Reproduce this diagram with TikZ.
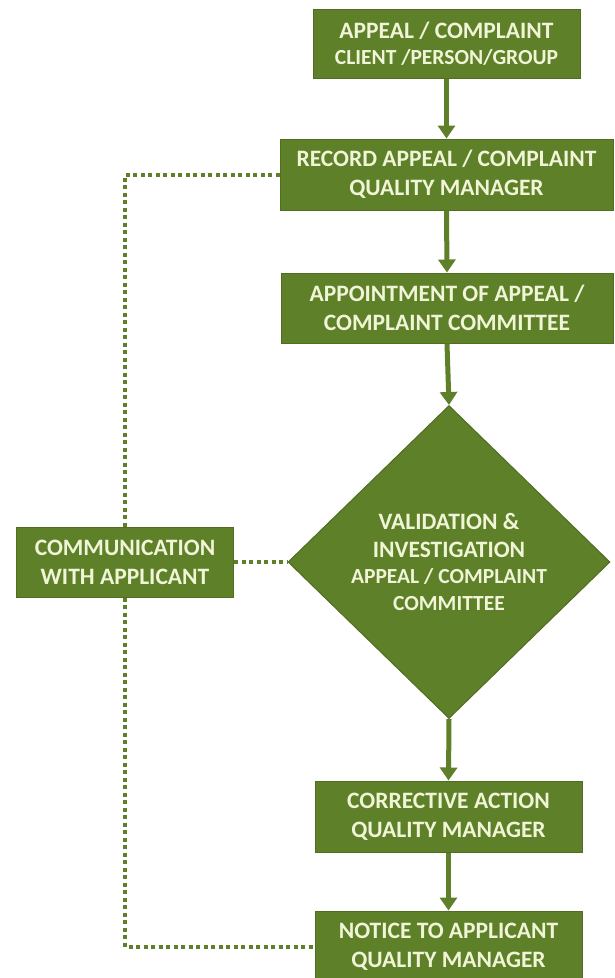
\documentclass[tikz,border=0pt]{standalone}
\usepackage{fontspec}
\setmainfont{Carlito}
\usetikzlibrary{shapes.geometric,arrows.meta}
\definecolor{olive}{RGB}{94,128,40}
\definecolor{cream}{RGB}{240,245,215}
\newcommand{\smalltxt}{\fontsize{21.5}{27}\selectfont}

\begin{document}
\begin{tikzpicture}[
			x = 1pt, y = -1pt,
			box/.style = {draw = olive!85!black, line width = 1pt, fill = olive,
				text = cream, font = \bfseries\fontsize{23.5}{29}\selectfont,
				align = center, inner sep = 0pt},
			flow/.style = {draw = olive, line width = 5pt,
				-{Triangle[width = 17pt, length = 13pt]}},
			dots/.style = {draw = olive, line width = 4pt,
				dash pattern = on 4pt off 3.5pt}
			]
			\useasboundingbox (0,0) rectangle (614,978);

			\node[box, minimum width = 267pt, minimum height = 69pt] (appeal) at (446.5,43.5)
				{APPEAL / COMPLAINT\\[-3pt]{\smalltxt CLIENT /PERSON/GROUP}};
			\node[box, minimum width = 333pt, minimum height = 71pt] (record) at (446.5,174.5)
				{RECORD APPEAL / COMPLAINT\\QUALITY MANAGER};
			\node[box, minimum width = 332pt, minimum height = 70pt] (committee) at (447,308)
				{APPOINTMENT OF APPEAL /\\COMPLAINT COMMITTEE};
			\node[box, diamond, minimum width = 322pt, minimum height = 313pt] (valid) at (449,562)
				{VALIDATION \&\\[-1pt]INVESTIGATION\\[-3pt]{\smalltxt APPEAL / COMPLAINT}\\[-2pt]{\smalltxt COMMITTEE}};
			\node[box, minimum width = 267pt, minimum height = 71pt] (corrective) at (448.5,816.5)
				{CORRECTIVE ACTION\\QUALITY MANAGER};
			\node[box, minimum width = 267pt, minimum height = 71pt] (notice) at (448.5,946.5)
				{NOTICE TO APPLICANT\\QUALITY MANAGER};
			\node[box, minimum width = 217pt, minimum height = 70pt] (comm) at (125,562)
				{COMMUNICATION\\WITH APPLICANT};

			\draw[flow] (appeal.south) -- (record.north);
			\draw[flow] (record.south) -- (committee.north);
			\draw[flow] (committee.south) -- (valid.north);
			\draw[flow] (valid.south) -- (corrective.north);
			\draw[flow] (corrective.south) -- (notice.north);

			\draw[dots] (record.west) -| (comm.north);
			\draw[dots] (comm.south) |- (notice.west);
			\draw[dots] (comm.east) -- (valid.west);

		\end{tikzpicture}
\end{document}
